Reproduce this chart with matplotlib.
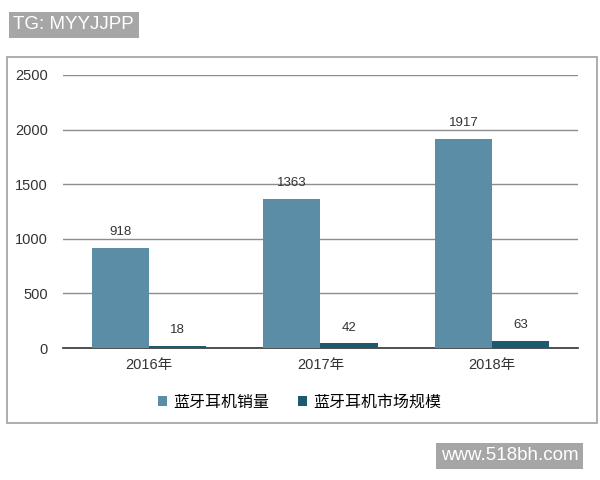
import matplotlib
matplotlib.use("Agg")
import matplotlib.pyplot as plt
from matplotlib.patches import Rectangle
import numpy as np

plt.rcParams["font.family"] = ["Liberation Sans", "Noto Sans CJK SC", "DejaVu Sans"]

years = ["2016年", "2017年", "2018年"]
sales = [918, 1363, 1917]
market = [18, 42, 63]
series_names = ["蓝牙耳机销量", "蓝牙耳机市场规模"]
colors = ["#5b8ea6", "#1c5a6e"]

fig = plt.figure(figsize=(6, 4.8), dpi=100)
# outer frame
fig.patches.append(Rectangle((0.012, 0.119), 0.983, 0.762, transform=fig.transFigure,
                             fill=False, edgecolor="#a0a0a0", lw=1.2))
ax = fig.add_axes([0.105, 0.275, 0.858, 0.569])
x = np.arange(len(years))
w = 0.333
b1 = ax.bar(x - w / 2, sales, w, color=colors[0], label=series_names[0], zorder=3)
b2 = ax.bar(x + w / 2, market, w, color=colors[1], label=series_names[1], zorder=3)
for bars, vals in ((b1, sales), (b2, market)):
    for r, v in zip(bars, vals):
        ax.annotate(str(v), (r.get_x() + r.get_width() / 2, v), xytext=(0, 7),
                    textcoords="offset points", ha="center", va="bottom",
                    fontsize=9.5, color="#333333")
ax.set_xlim(-0.5, 2.5)
ax.set_ylim(0, 2500)
ax.set_yticks([0, 500, 1000, 1500, 2000, 2500])
ax.set_xticks(x)
ax.set_xticklabels(years)
ax.yaxis.grid(True, color="#8c8c8c", lw=1)
ax.set_axisbelow(True)
for s in ["top", "right", "left"]:
    ax.spines[s].set_visible(False)
ax.spines["bottom"].set_color("#333333")
ax.spines["bottom"].set_linewidth(1.2)
ax.tick_params(axis="both", length=0, labelsize=10.5, colors="#333333")
ax.tick_params(axis="y", pad=11)
ax.tick_params(axis="x", pad=7)

fig.legend(loc="center", bbox_to_anchor=(0.5, 0.1625), ncol=2, frameon=False,
           handlelength=0.55, handleheight=0.55, handletextpad=0.4, columnspacing=1.8,
           prop={"size": 11.5})

fig.text(0.022, 0.948, "TG: MYYJJPP", color="white", fontsize=13.5, va="center", ha="left",
         bbox=dict(boxstyle="square,pad=0.25", fc="#a6a6a6", ec="none"))
fig.text(0.735, 0.05, "www.518bh.com", color="white", fontsize=13.5, va="center", ha="left",
         bbox=dict(boxstyle="square,pad=0.25", fc="#a6a6a6", ec="none"))

fig.savefig("out.png", dpi=100)
